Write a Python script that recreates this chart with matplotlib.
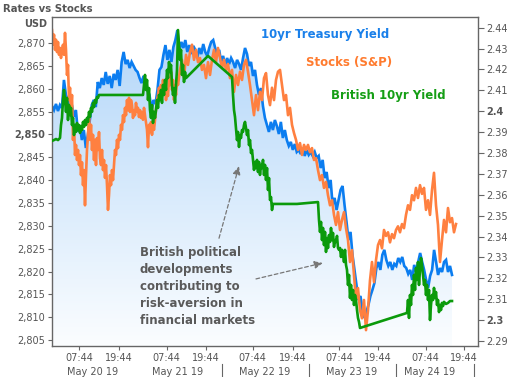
import numpy as np
import matplotlib
matplotlib.use("Agg")
import matplotlib.pyplot as plt
from matplotlib.ticker import FixedLocator
import matplotlib.transforms as mtrans

# ---------------- data ----------------
# 10yr Treasury yield (right axis), evenly sampled over the chart time span
treasury = [2.4025, 2.4006, 2.4035, 2.4001, 2.4030, 2.4016, 2.4150, 2.4078, 2.4054, 2.3997,
            2.4030, 2.3973, 2.4006, 2.3901, 2.3934, 2.3862, 2.3910, 2.3824, 2.3886, 2.3958,
            2.4030, 2.4054, 2.4020, 2.4140, 2.4111, 2.4159, 2.4126, 2.4188, 2.4131, 2.4169,
            2.4111, 2.4179, 2.4150, 2.4198, 2.4121, 2.4236, 2.4284, 2.4226, 2.4246, 2.4207,
            2.4236, 2.4217, 2.4198, 2.4188, 2.4159, 2.4135, 2.4169, 2.4150, 2.4102, 2.4078,
            2.4006, 2.4054, 2.4035, 2.4102, 2.4198, 2.4212, 2.4270, 2.4317, 2.4246, 2.4294,
            2.4236, 2.4308, 2.4341, 2.4389, 2.4294, 2.4332, 2.4303, 2.4341, 2.4284, 2.4317,
            2.4274, 2.4313, 2.4294, 2.4255, 2.4303, 2.4274, 2.4322, 2.4284, 2.4265, 2.4303,
            2.4332, 2.4341, 2.4303, 2.4270, 2.4294, 2.4236, 2.4265, 2.4217, 2.4255, 2.4226,
            2.4255, 2.4236, 2.4207, 2.4246, 2.4226, 2.4198, 2.4255, 2.4303, 2.4274, 2.4217,
            2.4236, 2.4169, 2.4198, 2.4126, 2.4078, 2.4111, 2.4025, 2.3968, 2.3934, 2.3901,
            2.3949, 2.3910, 2.3958, 2.3929, 2.3891, 2.3949, 2.3872, 2.3910, 2.3862, 2.3834,
            2.3853, 2.3815, 2.3843, 2.3805, 2.3815, 2.3795, 2.3824, 2.3786, 2.3815, 2.3791,
            2.3805, 2.3786, 2.3805, 2.3776, 2.3786, 2.3728, 2.3767, 2.3680, 2.3709, 2.3632,
            2.3671, 2.3551, 2.3585, 2.3527, 2.3575, 2.3623, 2.3642, 2.3551, 2.3470, 2.3383,
            2.3422, 2.3312, 2.3240, 2.3168, 2.3096, 2.3115, 2.3048, 2.3010, 2.3039, 2.3072,
            2.3115, 2.3144, 2.3177, 2.3249, 2.3278, 2.3240, 2.3312, 2.3336, 2.3288, 2.3259,
            2.3278, 2.3240, 2.3269, 2.3259, 2.3297, 2.3278, 2.3302, 2.3259, 2.3249, 2.3221,
            2.3240, 2.3192, 2.3264, 2.3230, 2.3278, 2.3321, 2.3278, 2.3240, 2.3192, 2.3154,
            2.3211, 2.3240, 2.3336, 2.3278, 2.3216, 2.3249, 2.3230, 2.3278, 2.3288, 2.3230,
            2.3259, 2.3216]
treasury_end = 400

# Stocks (S&P, left axis, USD) - first part sampled every unit, second every 2 units
stocks_a = [2872.8, 2869.6, 2871.8, 2868.5, 2870.7, 2868.0, 2870.2, 2867.4, 2868.9, 2866.7,
            2868.5, 2869.6, 2867.4, 2872.2, 2868.5, 2863.0, 2865.2, 2857.5, 2860.2, 2855.3,
            2858.6, 2848.8, 2852.1, 2845.5, 2847.7, 2844.4, 2846.6, 2843.3, 2845.5, 2841.1,
            2843.9, 2838.9, 2842.2, 2834.5, 2841.1, 2846.6, 2849.9, 2853.6, 2848.8, 2852.1,
            2846.6, 2849.9, 2844.4, 2848.8, 2843.3, 2849.2, 2846.6, 2850.5, 2844.8, 2843.3,
            2846.6, 2842.2, 2844.4, 2840.5, 2843.3, 2838.9, 2833.5, 2836.7, 2841.1, 2838.9,
            2842.2, 2840.0, 2843.3, 2846.6, 2845.5, 2848.8, 2847.0, 2849.9, 2848.8, 2852.1,
            2851.0, 2854.2, 2852.7, 2855.8, 2854.2, 2857.5, 2855.3, 2858.0, 2854.9, 2857.5,
            2856.4, 2853.6, 2855.3, 2854.2, 2856.9, 2854.9, 2855.8, 2853.8, 2855.3, 2853.6,
            2854.9, 2853.2, 2855.8, 2854.2, 2852.7, 2851.0, 2847.2, 2852.1, 2850.5, 2852.7,
            2849.9, 2852.1, 2851.0, 2853.2, 2855.3, 2857.5, 2858.6, 2860.2, 2857.5, 2860.8,
            2858.6, 2861.9, 2859.3, 2860.8, 2857.5, 2859.7, 2858.4, 2862.3, 2860.8, 2863.7,
            2859.7, 2861.9, 2857.5, 2860.8, 2858.6, 2862.3, 2860.8]
stocks_b = [2864.1, 2866.3, 2862.3, 2867.4, 2865.2, 2868.0, 2869.6, 2866.3, 2868.5, 2865.8,
            2866.7, 2864.1, 2865.2, 2862.3, 2865.8, 2863.0, 2866.3, 2868.5, 2865.8, 2868.9,
            2866.7, 2864.5, 2866.3, 2864.1, 2865.4, 2862.3, 2864.1, 2859.3, 2863.0, 2860.8,
            2863.7, 2861.9, 2865.2, 2866.3, 2863.7, 2860.8, 2857.5, 2854.2, 2858.6, 2855.3,
            2859.3, 2857.5, 2862.3, 2863.4, 2858.6, 2856.4, 2860.2, 2857.5, 2861.9, 2863.7,
            2864.1, 2860.8, 2857.5, 2858.6, 2854.2, 2855.8, 2852.1, 2850.3, 2848.8, 2846.6,
            2848.1, 2845.5, 2847.7, 2846.6, 2847.7, 2846.1, 2847.0, 2844.4, 2844.8, 2842.2,
            2840.0, 2841.1, 2838.3, 2839.6, 2836.7, 2834.5, 2835.6, 2832.4, 2830.2, 2833.0,
            2829.1, 2831.3, 2833.0, 2829.5, 2826.9, 2822.1, 2824.7, 2819.2, 2813.8, 2816.4,
            2811.6, 2809.8, 2813.8, 2807.2, 2811.6, 2818.1, 2822.1, 2817.7, 2822.5, 2825.8,
            2826.9, 2825.1, 2829.1, 2827.8, 2828.6, 2826.4, 2828.2, 2827.3, 2829.1, 2829.9,
            2828.6, 2830.4, 2829.5, 2832.4, 2834.5, 2833.5, 2836.7, 2835.6, 2838.3, 2836.1,
            2838.9, 2837.0, 2838.3, 2833.5, 2835.6, 2832.4, 2837.8, 2841.6, 2834.5, 2830.2,
            2822.1, 2826.9, 2831.3, 2828.6, 2833.9, 2830.8, 2831.7, 2828.6, 2830.4]

# British 10yr yield (drawn against the right axis), irregular sampling with gaps
british_t = [0, 2, 4, 6, 8, 9, 10, 11, 12, 13, 14, 15, 16, 17, 18, 19, 20, 21, 22, 23, 24, 25,
             26, 27, 28, 29, 30, 31, 32, 33, 34, 35, 36, 37, 38, 39, 40, 41, 42, 43, 44, 45, 46,
             47, 91, 92, 93, 94, 95, 96, 97, 98, 99, 100, 101, 102, 103, 104, 105, 106, 107,
             108, 109, 110, 111, 112, 113, 114, 115, 116, 117, 118, 119, 120, 121, 122, 123,
             124, 125, 126, 127, 128, 129, 130, 131, 132, 133, 134, 156, 180, 181, 182, 183,
             184, 185, 186, 187, 188, 189, 190, 191, 192, 193, 194, 195, 196, 197, 198, 199,
             200, 201, 202, 203, 204, 205, 206, 207, 208, 209, 210, 211, 212, 213, 214, 215,
             216, 217, 218, 219, 220, 221, 245, 266, 267, 268, 269, 270, 271, 272, 273, 274,
             275, 276, 277, 278, 279, 280, 281, 282, 283, 284, 285, 286, 287, 288, 289, 290,
             291, 292, 293, 294, 295, 296, 297, 298, 299, 300, 301, 302, 303, 304, 305, 306,
             307, 308, 355, 356, 357, 358, 359, 360, 361, 362, 363, 364, 365, 366, 367, 368,
             369, 370, 371, 372, 373, 374, 375, 376, 377, 378, 379, 380, 381, 382, 383, 384,
             385, 386, 387, 388, 389, 390, 391, 392, 394, 396, 398, 400]
british = [2.3858, 2.3862, 2.3867, 2.3862, 2.3872, 2.3934, 2.3968, 2.4054, 2.4102, 2.4054,
           2.3997, 2.4064, 2.3958, 2.4030, 2.3982, 2.4016, 2.3934, 2.3968, 2.3886, 2.3934,
           2.3901, 2.3944, 2.3910, 2.3934, 2.3896, 2.3929, 2.3910, 2.3949, 2.3925, 2.3958,
           2.3934, 2.3968, 2.3949, 2.3997, 2.3973, 2.4016, 2.3997, 2.4040, 2.4020, 2.4054,
           2.4040, 2.4068, 2.4064, 2.4078, 2.4078, 2.4126, 2.4174, 2.4102, 2.4150, 2.4054,
           2.4111, 2.4006, 2.3968, 2.4030, 2.3944, 2.3997, 2.3968, 2.4006, 2.4054, 2.4016,
           2.4078, 2.4054, 2.4102, 2.4040, 2.4126, 2.4078, 2.4150, 2.4102, 2.4198, 2.4159,
           2.4236, 2.4188, 2.4222, 2.4126, 2.4078, 2.4111, 2.4040, 2.4126, 2.4198, 2.4389,
           2.4317, 2.4246, 2.4294, 2.4174, 2.4222, 2.4140, 2.4188, 2.4159, 2.4265, 2.4164,
           2.4078, 2.4006, 2.3973, 2.3920, 2.3862, 2.3901, 2.3829, 2.3886, 2.3872, 2.3910,
           2.3901, 2.3934, 2.3949, 2.3920, 2.3886, 2.3910, 2.3838, 2.3862, 2.3800, 2.3815,
           2.3767, 2.3719, 2.3757, 2.3728, 2.3767, 2.3709, 2.3757, 2.3695, 2.3743, 2.3728,
           2.3767, 2.3695, 2.3743, 2.3671, 2.3728, 2.3623, 2.3680, 2.3575, 2.3589, 2.3527,
           2.3556, 2.3556, 2.3565, 2.3479, 2.3422, 2.3470, 2.3383, 2.3441, 2.3359, 2.3422,
           2.3326, 2.3393, 2.3345, 2.3407, 2.3374, 2.3441, 2.3383, 2.3417, 2.3350, 2.3383,
           2.3374, 2.3403, 2.3345, 2.3336, 2.3345, 2.3302, 2.3336, 2.3316, 2.3278, 2.3336,
           2.3264, 2.3240, 2.3168, 2.3216, 2.3106, 2.3168, 2.3096, 2.3144, 2.3072, 2.3120,
           2.3096, 2.3048, 2.3010, 2.2991, 2.2962, 2.3034, 2.3096, 2.3010, 2.3120, 2.3072,
           2.3168, 2.3120, 2.3216, 2.3144, 2.3249, 2.3192, 2.3278, 2.3168, 2.3240, 2.3297,
           2.3264, 2.3216, 2.3168, 2.3192, 2.3120, 2.3168, 2.3096, 2.3144, 2.3000, 2.3072,
           2.3120, 2.3096, 2.3154, 2.3106, 2.3134, 2.3072, 2.3096, 2.3038, 2.3072, 2.3048,
           2.3082, 2.3067, 2.3087, 2.3077, 2.3082, 2.3091, 2.3091]

time_tick_pos = [27.3, 66.7, 114.7, 153.7, 200.7, 240.7, 287.0, 326.3, 373.7, 412.3]
time_tick_labels = ["07:44", "19:44"] * 5
day_labels = ["May 20 19", "May 21 19", "May 22 19", "May 23 19", "May 24 19"]
day_label_pos = [41, 126, 213, 300, 377.5]
day_sep_pos = [170.3, 257.3, 344.0, 422.3]

stock_ticks = list(range(2805, 2871, 5))
yield_ticks = [round(2.29 + 0.01 * i, 2) for i in range(16)]

# ---------------- styling ----------------
C_BLUE = "#0b7df0"
C_ORANGE = "#ff8040"
C_GREEN = "#0b9a0b"
C_TEXT = "#555555"
C_AXIS = "#666666"

XMIN, XMAX = 0, 426
S_LO, S_HI = 2803.8, 2875.6
Y_LO, Y_HI = 2.2877, 2.4450

fig = plt.figure(figsize=(5.14, 3.77), dpi=100)
fig.patch.set_facecolor("white")
rect = [52 / 514, (377 - 345.7) / 377, 426 / 514, 328.4 / 377]
axS = fig.add_axes(rect)
axY = axS.twinx()
axG = axS.twinx()
axY.set_zorder(1)
axS.set_zorder(2)
axG.set_zorder(3)
for a in (axS, axY, axG):
    a.patch.set_visible(False)
    a.set_xlim(XMIN, XMAX)

# treasury with gradient fill
t_tr = np.linspace(0, treasury_end, len(treasury))
poly = axY.fill_between(t_tr, treasury, Y_LO, color="none", lw=0)
g = np.linspace(0, 1, 256)[:, None, None]
top = np.array([0.69, 0.835, 0.975])[None, None, :]
bot = np.array([0.985, 0.993, 1.0])[None, None, :]
img = top * (1 - g) + bot * g
im = axY.imshow(img, extent=[XMIN, XMAX, Y_LO, Y_HI], aspect="auto",
                origin="upper", zorder=1, interpolation="bilinear")
im.set_clip_path(poly.get_paths()[0], transform=axY.transData)
axY.plot(t_tr, treasury, color=C_BLUE, lw=1.9, zorder=2, solid_joinstyle="miter")
axY.set_xlim(XMIN, XMAX)
axY.set_ylim(Y_LO, Y_HI)

# stocks
t_a = np.arange(len(stocks_a))
t_b = t_a[-1] + 2 * (1 + np.arange(len(stocks_b)))
axS.plot(np.r_[t_a, t_b], stocks_a + stocks_b, color=C_ORANGE, lw=1.9, zorder=2)
axS.set_ylim(S_LO, S_HI)

# british
axG.plot(british_t, british, color=C_GREEN, lw=1.9, zorder=2)
axG.set_ylim(Y_LO, Y_HI)
axG.axis("off")

# spines
for s in axY.spines.values():
    s.set_visible(False)
for s in axS.spines.values():
    s.set_color(C_AXIS)
    s.set_linewidth(1.0)

# left axis ticks
axS.yaxis.set_major_locator(FixedLocator(stock_ticks))
axS.set_yticklabels([f"{v:,}" for v in stock_ticks])
axS.tick_params(axis="y", direction="out", length=3, width=0.8, color=C_AXIS,
                labelsize=7, labelcolor=C_TEXT, pad=2)
for lab, v in zip(axS.get_yticklabels(), stock_ticks):
    if v == 2850:
        lab.set_fontweight("bold")

# right axis ticks
axY.yaxis.set_major_locator(FixedLocator(yield_ticks))
axY.set_yticklabels([f"{v:g}" for v in yield_ticks])
axY.tick_params(axis="y", direction="out", length=4, width=0.8, color=C_AXIS,
                labelsize=7, labelcolor=C_TEXT, pad=2)
for lab, v in zip(axY.get_yticklabels(), yield_ticks):
    if abs(v - 2.4) < 1e-9 or abs(v - 2.3) < 1e-9:
        lab.set_fontweight("bold")
axY.tick_params(axis="x", bottom=False, labelbottom=False)

# x axis
axS.xaxis.set_major_locator(FixedLocator(time_tick_pos))
axS.set_xticklabels(time_tick_labels)
axS.tick_params(axis="x", direction="out", length=3, width=0.8, color=C_AXIS,
                labelsize=7, labelcolor=C_TEXT, pad=2)
trans = mtrans.blended_transform_factory(axS.transData, axS.transAxes)
for pos, lab in zip(day_label_pos, day_labels):
    axS.text(pos, -0.079, lab, transform=trans, ha="center", va="center",
             fontsize=7, color=C_TEXT)
for pos in day_sep_pos:
    axS.plot([pos, pos], [-0.057, -0.093], transform=trans, color=C_AXIS,
             lw=0.8, clip_on=False)

# title and unit
fig.text(3 / 514, 1 - 8.5 / 377, "Rates vs Stocks", fontsize=7.3, fontweight="bold",
         color=C_TEXT, ha="left", va="center")
fig.text(47 / 514, 1 - 24 / 377, "USD", fontsize=7, fontweight="bold",
         color=C_TEXT, ha="right", va="center")

# series labels
axS.text(0.4906, 0.948, "10yr Treasury Yield", transform=axS.transAxes, color="#1a80ea",
         fontsize=8.5, fontweight="bold", ha="left", va="center", zorder=5)
axS.text(0.596, 0.863, "Stocks (S&P)", transform=axS.transAxes, color="#ff7b2e",
         fontsize=8.5, fontweight="bold", ha="left", va="center", zorder=5)
axS.text(0.655, 0.763, "British 10yr Yield", transform=axS.transAxes, color="#159e15",
         fontsize=8.5, fontweight="bold", ha="left", va="center", zorder=5)

# annotation
axS.text(88, 2816.8, "British political\ndevelopments\ncontributing to\nrisk-aversion in\nfinancial markets",
         fontsize=8.5, fontweight="bold", color="#5a5a5a", ha="left", va="center",
         linespacing=1.4, zorder=5)
arrow_kw = dict(arrowstyle="-|>,head_length=0.5,head_width=0.22", color="#777777",
                lw=0.9, linestyle=(0, (3, 2)), shrinkA=0, shrinkB=0)
axS.annotate("", xy=(187, 2843.1), xytext=(167, 2827.3), arrowprops=arrow_kw, zorder=5)
axS.annotate("", xy=(271, 2821.9), xytext=(204, 2818.4), arrowprops=arrow_kw, zorder=5)

fig.savefig("out.png", dpi=100, facecolor="white")
